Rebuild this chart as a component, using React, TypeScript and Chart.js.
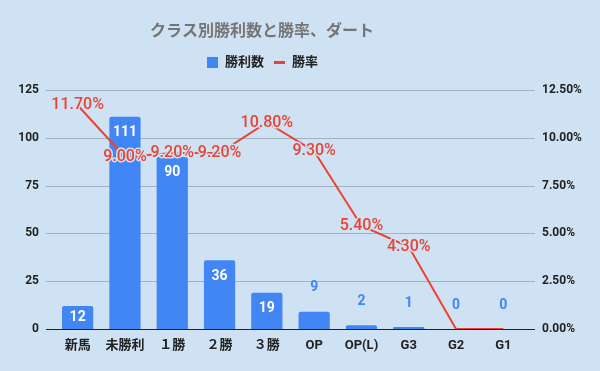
import React, { useEffect, useRef } from "react";
import { Chart, registerables } from "chart.js";

Chart.register(...registerables);

const categories = ["新馬", "未勝利", "１勝", "２勝", "３勝", "OP", "OP(L)", "G3", "G2", "G1"];
const wins = [12, 111, 90, 36, 19, 9, 2, 1, 0, 0];
const winRate = [11.7, 9.0, 9.2, 9.2, 10.8, 9.3, 5.4, 4.3, 0, 0];
const leftTicks = [0, 25, 50, 75, 100, 125];
const titleText = "クラス別勝利数と勝率、ダート";
const barLabel = "勝利数";
const lineLabel = "勝率";

const BG = "#cfe2f3";
const BLUE = "#4285f4";
const RED = "#ea4335";
const FONT = "Roboto, 'Noto Sans CJK JP', sans-serif";

const decorPlugin = {
  id: "decor",
  beforeDraw(chart: any) {
    const ctx = chart.ctx;
    ctx.save();
    ctx.fillStyle = BG;
    ctx.fillRect(0, 0, chart.width, chart.height);
    // title
    ctx.fillStyle = "#757575";
    ctx.font = `bold 16px ${FONT}`;
    ctx.textAlign = "center";
    ctx.textBaseline = "middle";
    ctx.fillText(titleText, 262, 32);
    // legend
    ctx.fillStyle = BLUE;
    ctx.fillRect(207, 57, 11, 11);
    ctx.fillStyle = "#222";
    ctx.font = `bold 13px ${FONT}`;
    ctx.textAlign = "left";
    ctx.fillText(barLabel, 225, 63);
    ctx.fillStyle = RED;
    ctx.fillRect(274, 61, 11, 3);
    ctx.fillStyle = "#222";
    ctx.fillText(lineLabel, 292, 63);
    ctx.restore();
  },
  beforeDatasetsDraw(chart: any) {
    const ctx = chart.ctx;
    const a = chart.chartArea;
    const y = chart.scales.y;
    ctx.save();
    ctx.lineWidth = 1;
    leftTicks.forEach((t) => {
      const py = Math.round(y.getPixelForValue(t)) + 0.5;
      ctx.strokeStyle = t === 0 ? "#222" : "#a2b0bf";
      ctx.beginPath();
      ctx.moveTo(a.left - 8, py);
      ctx.lineTo(a.right + 8, py);
      ctx.stroke();
    });
    ctx.restore();
  },
  afterDatasetsDraw(chart: any) {
    const ctx = chart.ctx;
    ctx.save();
    ctx.textAlign = "center";
    ctx.textBaseline = "middle";
    // bar labels
    const barMeta = chart.getDatasetMeta(0);
    ctx.font = `bold 14px ${FONT}`;
    barMeta.data.forEach((el: any, i: number) => {
      const top = el.y;
      const bottom = el.base;
      const h = bottom - top;
      const txt = String(wins[i]);
      if (h >= 20) {
        ctx.fillStyle = "#ffffff";
        ctx.fillText(txt, el.x, Math.min(top + 16, (top + bottom) / 2));
      } else {
        ctx.fillStyle = BLUE;
        ctx.fillText(txt, el.x, top - 24);
      }
    });
    // line labels
    const lineMeta = chart.getDatasetMeta(1);
    ctx.font = `500 16px ${FONT}`;
    ctx.lineJoin = "round";
    lineMeta.data.forEach((el: any, i: number) => {
      if (winRate[i] === 0) return;
      const txt = winRate[i].toFixed(2) + "%";
      ctx.strokeStyle = BG;
      ctx.lineWidth = 3;
      ctx.strokeText(txt, el.x, el.y);
      ctx.fillStyle = RED;
      ctx.fillText(txt, el.x, el.y);
    });
    ctx.restore();
  },
};

export default function App() {
  const ref = useRef<HTMLCanvasElement>(null);
  useEffect(() => {
    document.body.style.margin = "0";
    document.body.style.background = BG;
    const chart = new Chart(ref.current as HTMLCanvasElement, {
      type: "bar",
      data: {
        labels: categories,
        datasets: [
          {
            type: "bar",
            label: barLabel,
            data: wins,
            backgroundColor: BLUE,
            yAxisID: "y",
            categoryPercentage: 1,
            barPercentage: 0.66,
            borderRadius: { topLeft: 2, topRight: 2, bottomLeft: 0, bottomRight: 0 },
            borderSkipped: "bottom",
            order: 2,
          } as any,
          {
            type: "line",
            label: lineLabel,
            data: winRate,
            borderColor: RED,
            borderWidth: 2,
            pointRadius: 0,
            tension: 0,
            yAxisID: "y1",
            order: 1,
          } as any,
        ],
      },
      options: {
        animation: false,
        responsive: false,
        layout: { padding: { top: 90, left: 0, right: 0, bottom: 0 } },
        plugins: { legend: { display: false }, title: { display: false }, tooltip: { enabled: false } },
        scales: {
          x: {
            offset: true,
            grid: { display: false, drawTicks: false },
            border: { display: false },
            ticks: { color: "#222", font: { family: FONT, size: 13, weight: "bold" }, padding: 9, maxRotation: 0, autoSkip: false },
            afterFit(s: any) { s.height = 42; },
          },
          y: {
            position: "left",
            min: 0,
            max: 125,
            grid: { display: false, drawTicks: false },
            border: { display: false },
            ticks: { stepSize: 25, color: "#222", font: { family: FONT, size: 12, weight: "bold" }, padding: 15 },
            afterFit(s: any) { s.width = 54; },
          },
          y1: {
            position: "right",
            min: 0,
            max: 12.5,
            grid: { display: false, drawTicks: false },
            border: { display: false },
            ticks: {
              stepSize: 2.5,
              color: "#222",
              font: { family: FONT, size: 12, weight: "bold" },
              padding: 15,
              callback: (v: any) => Number(v).toFixed(2) + "%",
            },
            afterFit(s: any) { s.width = 73; },
          },
        },
      } as any,
      plugins: [decorPlugin],
    });
    return () => chart.destroy();
  }, []);
  return (
    <div style={{ width: 600, height: 371, background: BG }}>
      <canvas ref={ref} width={600} height={371} style={{ display: "block" }} />
    </div>
  );
}
